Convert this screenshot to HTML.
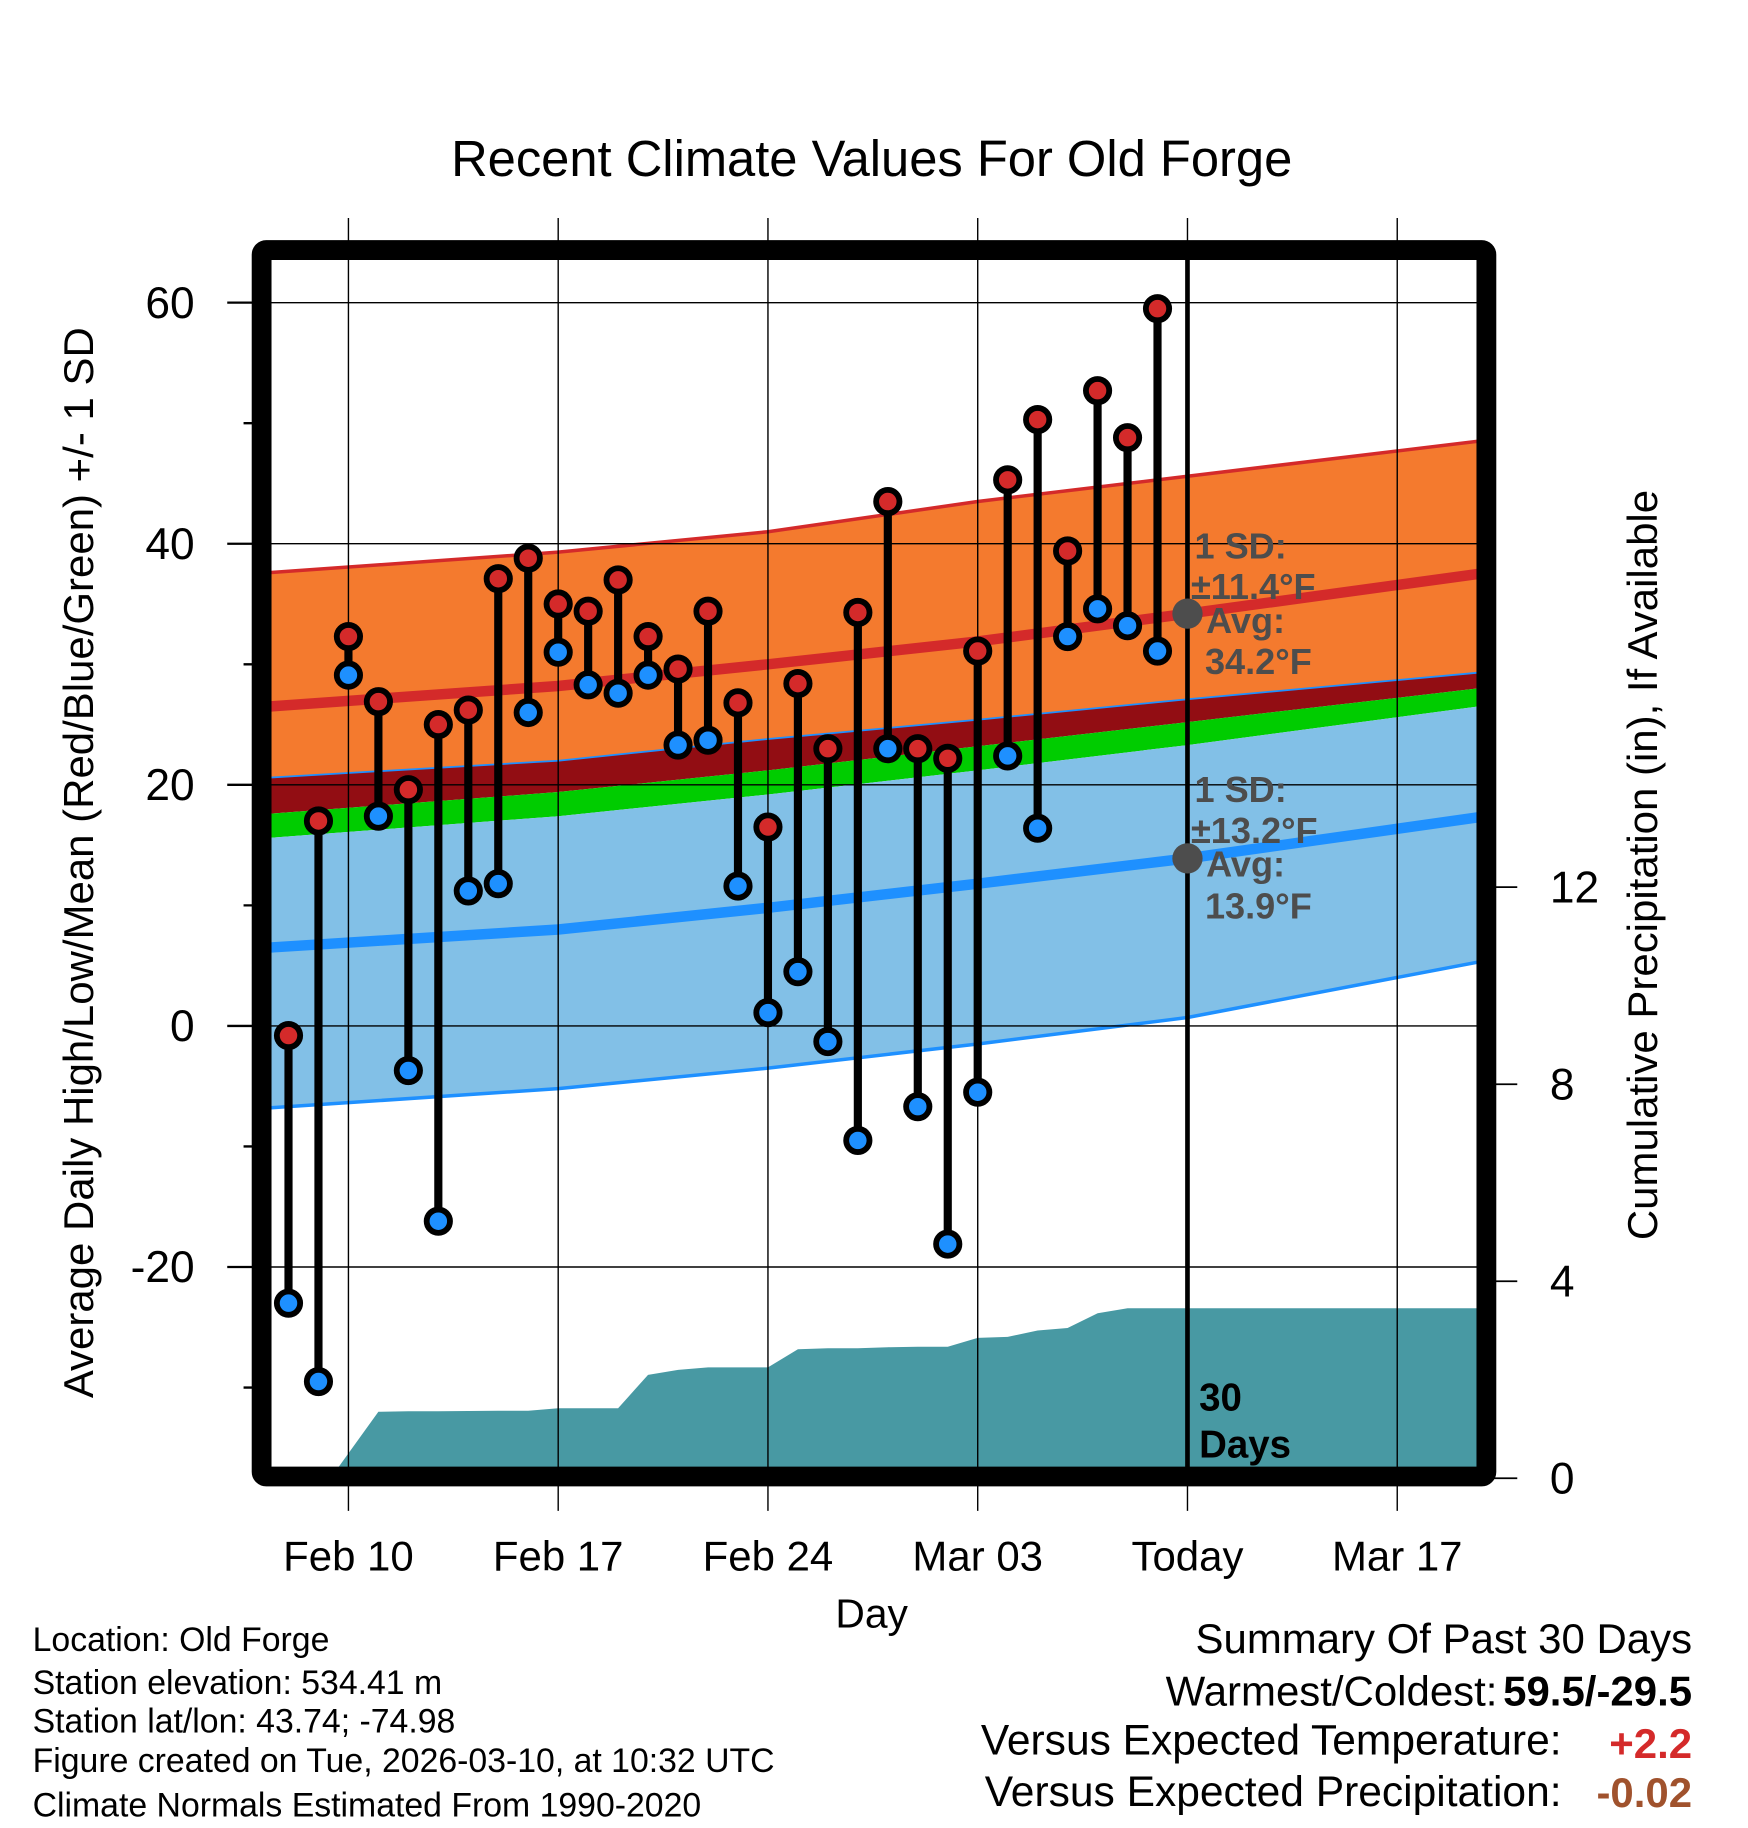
<!DOCTYPE html>
<html><head><meta charset="utf-8"><style>
html,body{margin:0;padding:0;background:#fff;}
svg{display:block;font-family:"Liberation Sans",sans-serif;}
</style></head><body>
<svg id="chart" width="1748" height="1828" viewBox="0 0 1500 1568" preserveAspectRatio="none" xmlns="http://www.w3.org/2000/svg">
<g id="layer"></g>
</svg>
<script>
// ---- data ----
const days = [-2,-1,0,1,2,3,4,5,6,7,8,9,10,11,12,13,14,15,16,17,18,19,20,21,22,23,24,25,26,27];
const highs = [-0.8,17,32.3,26.9,19.6,25,26.2,37.1,38.8,35,34.4,37,32.3,29.6,34.4,26.8,16.5,28.4,23,34.3,43.5,23,22.2,31.1,45.3,50.3,39.4,52.7,48.8,59.5];
const lows = [-23,-29.5,29.1,17.4,-3.7,-16.2,11.2,11.8,26,31,28.3,27.6,29.1,23.3,23.7,11.6,1.1,4.5,-1.3,-9.5,23,-6.7,-18.1,-5.5,22.4,16.4,32.3,34.6,33.2,31.1];
const normDays = [-2.64,7,14,21,28,37.7];
const highUpper = [37.6,39.3,41,43.5,45.6,48.5];
const highMean = [26.5,28.2,30,31.9,34.2,37.5];
const lowUpper = [20.6,22,23.8,25.4,27.1,29.3];
const greenTop = [17.6,19.4,21.2,23.2,25.2,28];
const greenBottom = [15.6,17.4,19.2,21.2,23.3,26.5];
const lowMean = [6.5,8,9.8,11.8,13.9,17.3];
const lowLower = [-6.8,-5.2,-3.5,-1.5,0.7,5.3];
const precipDays = [-0.6,1,2,3,5,6,7,8,9,10,11,12,14,15,16,17,18,19,20,21,22,23,24,25,26,27,28,37.7];
const precipVals = [0,1.35,1.36,1.36,1.37,1.37,1.42,1.42,1.42,2.1,2.2,2.25,2.25,2.62,2.64,2.64,2.66,2.67,2.67,2.85,2.87,3.0,3.05,3.35,3.45,3.45,3.45,3.45];
const xTickDays = [0,7,14,21,28,35];
const xTickLabels = ["Feb 10","Feb 17","Feb 24","Mar 03","Today","Mar 17"];
const yTicks = [60,40,20,0,-20];
const yMinor = [50,30,10,-10,-30];
const pTicks = [0,4,8,12];

// ---- scales ----
const X0=231, X1=1268, Y0=223, Y1=1260;
const x = d => 299 + d*(180/7);
const y = v => 880 - v*10.34;
const py = p => 1268 - p*(169/4);
const NS="http://www.w3.org/2000/svg";
const L=document.getElementById('layer');
function mk(tag, attrs, parent){const e=document.createElementNS(NS,tag);for(const k in attrs)e.setAttribute(k,attrs[k]);(parent||L).appendChild(e);return e;}
function line(arr){return normDays.map((d,i)=>`${x(d).toFixed(1)},${y(arr[i]).toFixed(1)}`);}
function band(top,bot){const a=line(top),b=line(bot).reverse();return 'M'+a.join(' L')+' L'+b.join(' L')+'Z';}

const defs=mk('defs',{});
const cp=mk('clipPath',{id:'pc'},defs);
mk('rect',{x:X0,y:Y0,width:X1-X0,height:Y1-Y0},cp);
const P=mk('g',{'clip-path':'url(#pc)'});

let e;
e=mk('path',{d:band(highUpper,lowUpper),fill:'#f47a2e'},P);


e=mk('path',{d:band(lowUpper,greenTop),fill:'#920d13'},P);


e=mk('path',{d:band(greenTop,greenBottom),fill:'#00cc00'},P);


e=mk('path',{d:band(greenBottom,lowLower),fill:'#82c0e7'},P);


e=mk('polyline',{points:line(highUpper).join(' '),fill:'none',stroke:'#d42a2a','stroke-width':3},P);


e=mk('polyline',{points:line(lowUpper).join(' '),fill:'none',stroke:'#1e90ff','stroke-width':1.5},P);


e=mk('polyline',{points:line(lowLower).join(' '),fill:'none',stroke:'#1e90ff','stroke-width':3},P);


e=mk('polyline',{points:line(highMean).join(' '),fill:'none',stroke:'#d42a2a','stroke-width':9},P);


e=mk('polyline',{points:line(lowMean).join(' '),fill:'none',stroke:'#1e90ff','stroke-width':9},P);



let pd='M'+x(precipDays[0]).toFixed(1)+','+py(0);
precipDays.forEach((d,i)=>{pd+=' L'+x(d).toFixed(1)+','+py(precipVals[i]).toFixed(1);});
pd+=' L'+x(precipDays[precipDays.length-1]).toFixed(1)+','+py(0)+'Z';
e=mk('path',{d:pd,fill:'#4899a3'},P);



yTicks.forEach(v=>{
  e=mk('line',{x1:X0,x2:X1,y1:y(v),y2:y(v),stroke:'#000','stroke-width':1.2},P);
  
  
  e=mk('line',{x1:195,x2:X0,y1:y(v),y2:y(v),stroke:'#000','stroke-width':2});
  
  
  e=mk('text',{x:167,y:y(v)+13,'text-anchor':'end','font-size':38});
  e.textContent=v;
  
  
});
yMinor.forEach(v=>{
  e=mk('line',{x1:209,x2:X0,y1:y(v),y2:y(v),stroke:'#000','stroke-width':2});
  
  
});
xTickDays.forEach((d,i)=>{
  e=mk('line',{x1:x(d),x2:x(d),y1:187,y2:1296,stroke:'#000','stroke-width':1.2});
  
  
  e=mk('text',{x:x(d),y:1347,'text-anchor':'middle','font-size':36});
  e.textContent=xTickLabels[i];
  
  
});
pTicks.forEach(p=>{
  e=mk('line',{x1:1282,x2:1302,y1:py(p),y2:py(p),stroke:'#000','stroke-width':1.5});
  
  
  e=mk('text',{x:1330,y:py(p)+13,'font-size':38});
  e.textContent=p;
  
  
});

e=mk('line',{x1:x(28),x2:x(28),y1:Y0,y2:Y1,stroke:'#000','stroke-width':4});



days.forEach((d,i)=>{
  e=mk('line',{x1:x(d),x2:x(d),y1:y(highs[i]),y2:y(lows[i]),stroke:'#000','stroke-width':7});
  
  
});
days.forEach((d,i)=>{
  e=mk('circle',{cx:x(d),cy:y(highs[i]),r:10,fill:'#d42a2a',stroke:'#000','stroke-width':5});
  
  
  e=mk('circle',{cx:x(d),cy:y(lows[i]),r:10,fill:'#1e90ff',stroke:'#000','stroke-width':5});
  
  
});

function lbl(txt,xx,yy,name){e=mk('text',{x:xx,y:yy,'font-size':31,'font-weight':'bold',fill:'#4d4d4d'});e.textContent=txt;}
e=mk('circle',{cx:x(28),cy:y(34.2),r:13,fill:'#4d4d4d'});


e=mk('circle',{cx:x(28),cy:y(13.9),r:13,fill:'#4d4d4d'});


lbl('1 SD:',1025,479,'high-sd-label');
lbl('±11.4°F',1022,514,'high-sd-value');
lbl('Avg:',1035,543,'high-avg-label');
lbl('34.2°F',1034,578,'high-avg-value');
lbl('1 SD:',1025,688,'low-sd-label');
lbl('±13.2°F',1022,723,'low-sd-value');
lbl('Avg:',1035,752,'low-avg-label');
lbl('13.9°F',1034,788,'low-avg-value');
e=mk('text',{x:1029,y:1210,'font-size':33,'font-weight':'bold'});e.textContent='30';


e=mk('text',{x:1029,y:1250,'font-size':33,'font-weight':'bold'});e.textContent='Days';



e=mk('rect',{x:224.5,y:214.5,width:1051,height:1052,fill:'none',stroke:'#000','stroke-width':17,rx:4});



function t(txt,xx,yy,size,anchor,name,extra){e=mk('text',Object.assign({x:xx,y:yy,'font-size':size,'text-anchor':anchor},extra||{}));e.textContent=txt;return e;}
t('Recent Climate Values For Old Forge',748,151,43.5,'middle','chart-title');
t('Day',748,1396,35,'middle','x-axis-title');
t('Average Daily High/Low/Mean (Red/Blue/Green) +/- 1 SD',0,0,36,'middle','y-axis-title',{transform:'translate(80,740) rotate(-90)'});
t('Cumulative Precipitation (in), If Available',0,0,36,'middle','precip-axis-title',{transform:'translate(1422,742) rotate(-90)'});
t('Location: Old Forge',28,1416,29,'start','location-note');
t('Station elevation: 534.41 m',28,1453,29,'start','elevation-note');
t('Station lat/lon: 43.74; -74.98',28,1486,29,'start','latlon-note');
t('Figure created on Tue, 2026-03-10, at 10:32 UTC',28,1520,29,'start','created-note');
t('Climate Normals Estimated From 1990-2020',28,1558,29,'start','normals-note');
t('Summary Of Past 30 Days',1452,1418,36,'end','summary-title');
t('Warmest/Coldest: ',1285,1463,36,'end','warmest-coldest-label');
t('59.5/-29.5',1452,1463,36,'end','warmest-coldest-value',{'font-weight':'bold'});
t('Versus Expected Temperature:',1340,1505,36.5,'end','temp-anomaly-label');
t('+2.2',1452,1508,36,'end','temp-anomaly-value',{'font-weight':'bold',fill:'#d42a2a'});
t('Versus Expected Precipitation:',1340,1549,36.5,'end','precip-anomaly-label');
t('-0.02',1452,1550,36,'end','precip-anomaly-value',{'font-weight':'bold',fill:'#a0522d'});
</script>
</body></html>
